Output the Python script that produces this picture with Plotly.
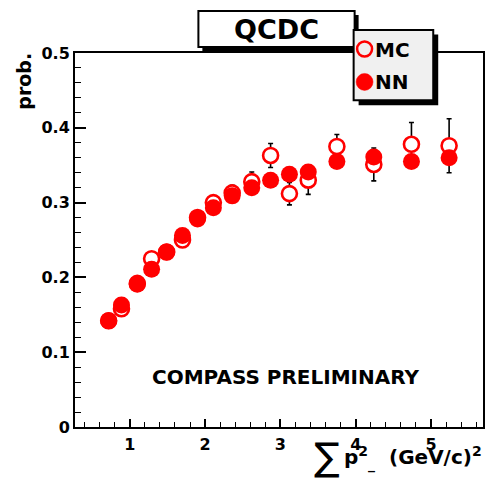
import plotly.graph_objects as go

# ---- data ----
x_vals = [0.72, 0.89, 1.10, 1.29, 1.49, 1.70, 1.90, 2.11, 2.36, 2.62,
          2.87, 3.12, 3.37, 3.75, 4.24, 4.74, 5.24]
nn_vals = [0.142, 0.163, 0.191, 0.211, 0.234, 0.256, 0.278, 0.293, 0.309, 0.320,
           0.330, 0.338, 0.341, 0.355, 0.361, 0.355, 0.360]
mc_vals = [0.142, 0.158, 0.192, 0.225, 0.234, 0.250, 0.280, 0.300, 0.313, 0.328,
           0.363, 0.312, 0.330, 0.375, 0.351, 0.378, 0.376]
mc_err = [0.004, 0.004, 0.005, 0.005, 0.006, 0.006, 0.006, 0.007, 0.010, 0.013,
          0.016, 0.015, 0.019, 0.016, 0.022, 0.029, 0.036]
y_tickvals = [0, 0.1, 0.2, 0.3, 0.4, 0.5]
y_ticktext = ["0", "0.1", "0.2", "0.3", "0.4", "0.5"]
x_tickvals = [1, 2, 3, 4, 5]
x_ticktext = ["1", "2", "3", "4", "5"]

W, H = 487, 478
L, R, T, B = 75, 2, 52.5, 50.5
PW, PH = W - L - R, H - T - B

def px(xp):
    return (xp - L) / PW

def py(yp):
    return (H - B - yp) / PH

FONT = "DejaVu Sans"
RED = "#ff0000"

fig = go.Figure()
fig.add_trace(go.Scatter(
    x=x_vals, y=mc_vals, mode="markers", name="MC",
    marker=dict(symbol="circle", size=15, color="white",
                line=dict(color=RED, width=2.6)),
    error_y=dict(type="data", array=mc_err, visible=True,
                 color="black", thickness=1.6, width=2.5),
    showlegend=False, cliponaxis=False))
fig.add_trace(go.Scatter(
    x=x_vals, y=nn_vals, mode="markers", name="NN",
    marker=dict(symbol="circle", size=17, color=RED, line=dict(width=0)),
    showlegend=False, cliponaxis=False))

axis_common = dict(showline=True, linecolor="black", linewidth=2, mirror=True,
                   ticks="inside", tickcolor="black", tickwidth=1.6,
                   showgrid=False, zeroline=False,
                   tickfont=dict(family=FONT, size=16, color="black", weight="bold"))

fig.update_xaxes(range=[0.273, 5.69], tickvals=x_tickvals, ticktext=x_ticktext,
                 ticklen=8, ticklabelstandoff=2,
                 minor=dict(dtick=0.2, tick0=0, ticklen=5, ticks="inside",
                            tickcolor="black", tickwidth=1.4, showgrid=False),
                 **axis_common)
fig.update_yaxes(range=[0, 0.5], tickvals=y_tickvals, ticktext=y_ticktext,
                 ticklen=11, ticklabelstandoff=0,
                 minor=dict(dtick=0.02, tick0=0, ticklen=6, ticks="inside",
                            tickcolor="black", tickwidth=1.4, showgrid=False),
                 **axis_common)

shapes = []
# title box with shadow
shapes.append(dict(type="rect", xref="paper", yref="paper",
                   x0=px(203), x1=px(360), y0=py(50.5), y1=py(14.5),
                   fillcolor="black", line=dict(width=0), layer="above"))
shapes.append(dict(type="rect", xref="paper", yref="paper",
                   x0=px(199), x1=px(356), y0=py(46.5), y1=py(10.5),
                   fillcolor="white", line=dict(color="black", width=2), layer="above"))
# legend box with shadow
shapes.append(dict(type="rect", xref="paper", yref="paper",
                   x0=px(360), x1=px(440), y0=py(105), y1=py(34),
                   fillcolor="black", line=dict(width=0), layer="above"))
shapes.append(dict(type="rect", xref="paper", yref="paper",
                   x0=px(355), x1=px(435), y0=py(100), y1=py(29.5),
                   fillcolor="#f0f0f0", line=dict(color="black", width=2), layer="above"))
# legend markers
r = 7.5
shapes.append(dict(type="circle", xref="paper", yref="paper",
                   x0=px(366 - r), x1=px(366 + r), y0=py(48.5 + r), y1=py(48.5 - r),
                   fillcolor="rgba(0,0,0,0)", line=dict(color=RED, width=2.5), layer="above"))
shapes.append(dict(type="circle", xref="paper", yref="paper",
                   x0=px(366 - 8.5), x1=px(366 + 8.5), y0=py(81.5 + 8.5), y1=py(81.5 - 8.5),
                   fillcolor=RED, line=dict(color=RED, width=0.5), layer="above"))

annotations = [
    dict(text="QCDC", xref="paper", yref="paper", x=px(277), y=py(28.5),
         xanchor="center", yanchor="middle", showarrow=False,
         font=dict(family=FONT, size=27, color="black", weight="bold")),
    dict(text="MC", xref="paper", yref="paper", x=px(374), y=py(49.5),
         xanchor="left", yanchor="middle", showarrow=False,
         font=dict(family=FONT, size=20, color="black", weight="bold")),
    dict(text="NN", xref="paper", yref="paper", x=px(374), y=py(82),
         xanchor="left", yanchor="middle", showarrow=False,
         font=dict(family=FONT, size=20, color="black", weight="bold")),
    dict(text="prob.", xref="paper", yref="paper", x=px(24), y=py(81),
         xanchor="center", yanchor="middle", textangle=-90, showarrow=False,
         font=dict(family=FONT, size=19, color="black", weight="bold")),
    dict(text="COMPASS PRELIMINARY", xref="paper", yref="paper", x=px(287), y=py(377),
         xanchor="center", yanchor="middle", showarrow=False,
         font=dict(family=FONT, size=20, color="black", weight="bold")),
    # big summation sign of the x title
    dict(text="∑", xref="paper", yref="paper", x=px(328), y=py(458),
         xanchor="center", yanchor="middle", showarrow=False,
         font=dict(family=FONT, size=38, color="black")),
    dict(text="p<sup>2</sup><sub>_</sub>  (GeV/c)<sup>2</sup>",
         xref="paper", yref="paper", x=px(486), y=py(459),
         xanchor="right", yanchor="middle", showarrow=False,
         font=dict(family=FONT, size=20, color="black", weight="bold")),
]

fig.update_layout(width=W, height=H, margin=dict(l=L, r=R, t=T, b=B, pad=0),
                  paper_bgcolor="white", plot_bgcolor="white",
                  shapes=shapes, annotations=annotations)

fig.write_html("out.html", config={"displayModeBar": False},
               post_script="document.body.style.margin='0';document.body.style.padding='0';")
